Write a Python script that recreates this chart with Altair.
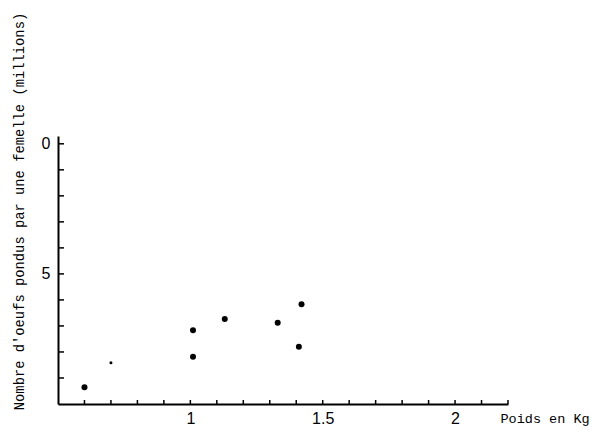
import altair as alt
import pandas as pd

# Data
weights = [0.60, 1.01, 1.01, 1.13, 1.33, 1.41, 1.42]
eggs = [9.36, 7.17, 8.18, 6.73, 6.88, 7.80, 6.17]
small_weights = [0.70]
small_eggs = [8.41]

y_tick_values = [0, 1, 2, 3, 4, 5, 6, 7, 8, 9]
x_tick_values = [0.6, 0.7, 0.8, 0.9, 1.0, 1.1, 1.2, 1.3, 1.4, 1.5, 1.6,
                 1.7, 1.8, 1.9, 2.0, 2.1, 2.2]
y_label_values = [0, 5]
x_label_values = [1, 1.5, 2]

W, H = 450, 268

pts = pd.DataFrame({"w": weights, "e": eggs})
small = pd.DataFrame({"w": small_weights, "e": small_eggs})
yt = pd.DataFrame({"e": y_tick_values})
xt = pd.DataFrame({"w": x_tick_values})

xscale = alt.Scale(domain=[0.5, 2.2], nice=False, zero=False)
yscale = alt.Scale(domain=[-0.3, 10], reverse=True, nice=False, zero=False)

x_axis = alt.Axis(
    values=x_label_values, labelExpr="datum.value == 1.5 ? '1.5' : format(datum.value, 'd')",
    ticks=False, grid=False, domainColor="black", domainWidth=2,
    labelFont="Liberation Sans", labelFontSize=16, labelColor="black",
    labelPadding=6,
    title="Poids en Kg", titleFont="Liberation Mono", titleFontSize=13.5,
    titleFontWeight="normal", titleColor="black", titleAlign="left",
    titleAnchor="start", titleX=442, titleY=18, titleBaseline="alphabetic",
)
y_axis = alt.Axis(
    values=y_label_values, format="d",
    ticks=False, grid=False, domainColor="black", domainWidth=2,
    labelFont="Liberation Sans", labelFontSize=16, labelColor="black",
    labelPadding=8,
    title="Nombre d'oeufs pondus par une femelle (millions)",
    titleFont="Liberation Mono", titleFontSize=13.8, titleFontWeight="normal",
    titleColor="black", titleAngle=-90, titleAlign="center",
    titleBaseline="alphabetic", titleX=-35, titleY=75,
)

points = alt.Chart(pts).mark_circle(color="black", opacity=1, size=36).encode(
    x=alt.X("w:Q", scale=xscale, axis=x_axis),
    y=alt.Y("e:Q", scale=yscale, axis=y_axis),
)
small_pts = alt.Chart(small).mark_circle(color="black", opacity=1, size=9).encode(
    x=alt.X("w:Q", scale=xscale),
    y=alt.Y("e:Q", scale=yscale),
)
ytick_marks = alt.Chart(yt).mark_rule(color="black", strokeWidth=1.5).encode(
    y=alt.Y("e:Q", scale=yscale),
    x=alt.value(0), x2=alt.value(6),
)
xtick_marks = alt.Chart(xt).mark_rule(color="black", strokeWidth=1.5).encode(
    x=alt.X("w:Q", scale=xscale),
    y=alt.value(H), y2=alt.value(H - 4),
)

chart = alt.layer(ytick_marks, xtick_marks, points, small_pts).properties(
    width=W, height=H,
    autosize=alt.AutoSizeParams(type="none"),
    padding={"left": 50, "top": 128, "right": 84, "bottom": 25},
).configure(background="white").configure_view(strokeWidth=0, stroke="transparent")

chart.save("out.html", embed_options={"renderer": "svg", "actions": False})
